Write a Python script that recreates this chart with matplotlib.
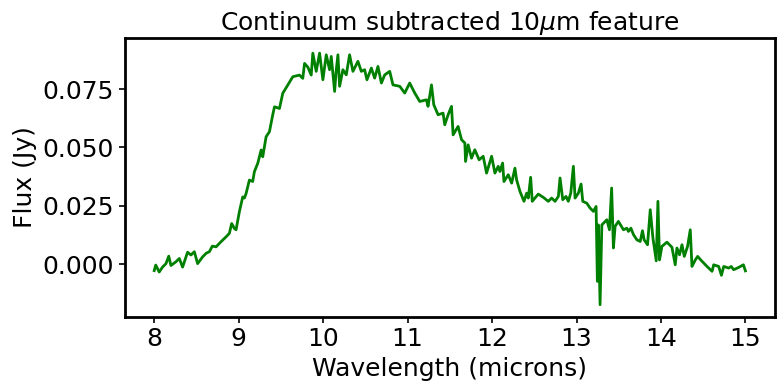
import matplotlib
matplotlib.use("Agg")
import matplotlib.pyplot as plt

wavelength = [
    8.000, 8.018, 8.059, 8.098, 8.139, 8.172, 8.198, 8.257, 8.297, 8.336,
    8.395, 8.435, 8.475, 8.514, 8.573, 8.617, 8.653, 8.688, 8.732, 8.791,
    8.851, 8.890, 8.917, 8.949, 8.969, 9.008, 9.048, 9.068, 9.088, 9.127,
    9.166, 9.186, 9.226, 9.266, 9.285, 9.325, 9.364, 9.403, 9.424, 9.483,
    9.522, 9.581, 9.641, 9.720, 9.759, 9.780, 9.819, 9.859, 9.878, 9.918,
    9.958, 9.997, 10.037, 10.076, 10.096, 10.136, 10.153, 10.175, 10.195, 10.234,
    10.274, 10.313, 10.353, 10.412, 10.452, 10.491, 10.519, 10.571, 10.610, 10.649,
    10.690, 10.729, 10.788, 10.827, 10.907, 10.966, 11.025, 11.085, 11.144, 11.223,
    11.242, 11.283, 11.310, 11.361, 11.420, 11.440, 11.480, 11.520, 11.539, 11.598,
    11.639, 11.678, 11.686, 11.717, 11.757, 11.796, 11.847, 11.895, 11.935, 11.995,
    12.034, 12.073, 12.093, 12.125, 12.141, 12.192, 12.232, 12.271, 12.291, 12.330,
    12.378, 12.410, 12.429, 12.457, 12.476, 12.547, 12.607, 12.666, 12.706, 12.746,
    12.785, 12.805, 12.837, 12.876, 12.903, 12.932, 12.963, 12.983, 13.022, 13.054,
    13.074, 13.122, 13.161, 13.200, 13.232, 13.247, 13.259, 13.279, 13.300, 13.359,
    13.390, 13.416, 13.437, 13.457, 13.496, 13.556, 13.596, 13.615, 13.644, 13.675,
    13.715, 13.754, 13.781, 13.801, 13.841, 13.873, 13.905, 13.944, 13.964, 13.983,
    14.011, 14.071, 14.130, 14.169, 14.189, 14.220, 14.249, 14.276, 14.315, 14.347,
    14.367, 14.407, 14.434, 14.486, 14.545, 14.605, 14.624, 14.683, 14.716, 14.743,
    14.802, 14.831, 14.861, 14.921, 14.976, 15.000,
]

flux = [
    -0.0028, -0.0004, -0.0034, -0.0013, 0.0002, 0.0034, -0.0006, 0.0010, 0.0024, -0.0013,
    0.0051, 0.0039, 0.0053, 0.0002, 0.0031, 0.0047, 0.0053, 0.0077, 0.0074, 0.0096,
    0.0117, 0.0132, 0.0174, 0.0153, 0.0147, 0.0224, 0.0288, 0.0283, 0.0303, 0.0360,
    0.0354, 0.0396, 0.0432, 0.0489, 0.0460, 0.0546, 0.0567, 0.0639, 0.0674, 0.0667,
    0.0732, 0.0767, 0.0803, 0.0810, 0.0796, 0.0860, 0.0844, 0.0810, 0.0904, 0.0826,
    0.0904, 0.0790, 0.0897, 0.0833, 0.0890, 0.0740, 0.0823, 0.0897, 0.0762, 0.0833,
    0.0811, 0.0897, 0.0826, 0.0869, 0.0826, 0.0833, 0.0790, 0.0840, 0.0797, 0.0847,
    0.0776, 0.0811, 0.0826, 0.0768, 0.0762, 0.0733, 0.0776, 0.0733, 0.0697, 0.0704,
    0.0676, 0.0768, 0.0683, 0.0640, 0.0647, 0.0597, 0.0640, 0.0676, 0.0554, 0.0590,
    0.0533, 0.0519, 0.0440, 0.0511, 0.0454, 0.0490, 0.0447, 0.0462, 0.0390, 0.0462,
    0.0390, 0.0419, 0.0397, 0.0433, 0.0354, 0.0383, 0.0347, 0.0411, 0.0361, 0.0312,
    0.0269, 0.0304, 0.0283, 0.0372, 0.0269, 0.0300, 0.0286, 0.0269, 0.0283, 0.0269,
    0.0290, 0.0369, 0.0276, 0.0290, 0.0269, 0.0304, 0.0419, 0.0283, 0.0304, 0.0343,
    0.0269, 0.0261, 0.0240, 0.0226, 0.0247, -0.0074, 0.0168, -0.0174, 0.0168, 0.0190,
    0.0147, 0.0326, 0.0069, 0.0162, 0.0183, 0.0147, 0.0154, 0.0140, 0.0154, 0.0126,
    0.0104, 0.0097, 0.0143, 0.0104, 0.0083, 0.0233, 0.0111, 0.0014, 0.0269, 0.0018,
    0.0076, 0.0094, 0.0072, -0.0003, 0.0069, 0.0040, 0.0083, 0.0033, 0.0076, 0.0147,
    -0.0010, 0.0018, 0.0033, 0.0012, -0.0010, -0.0031, -0.0003, -0.0010, -0.0048, -0.0010,
    -0.0017, -0.0010, -0.0024, -0.0014, -0.0003, -0.0029,
]

xticks = [8, 9, 10, 11, 12, 13, 14, 15]
yticks = [0.000, 0.025, 0.050, 0.075]

fig = plt.figure(figsize=(7.84, 3.90), dpi=100)
ax = fig.add_axes([0.159, 0.187, 0.8295, 0.7156])
ax.plot(wavelength, flux, color="green", linewidth=2)
ax.set_xticks(xticks)
ax.set_yticks(yticks)
ax.set_ylim(-0.0227, 0.0969)
ax.tick_params(labelsize=18, width=1.2, length=4)
for s in ax.spines.values():
    s.set_linewidth(2)
ax.set_xlabel("Wavelength (microns)", fontsize=18)
ax.set_ylabel("Flux (Jy)", fontsize=18)
ax.set_title(r"Continuum subtracted 10$\mu$m feature", fontsize=18)
fig.savefig("out.png", dpi=100)
